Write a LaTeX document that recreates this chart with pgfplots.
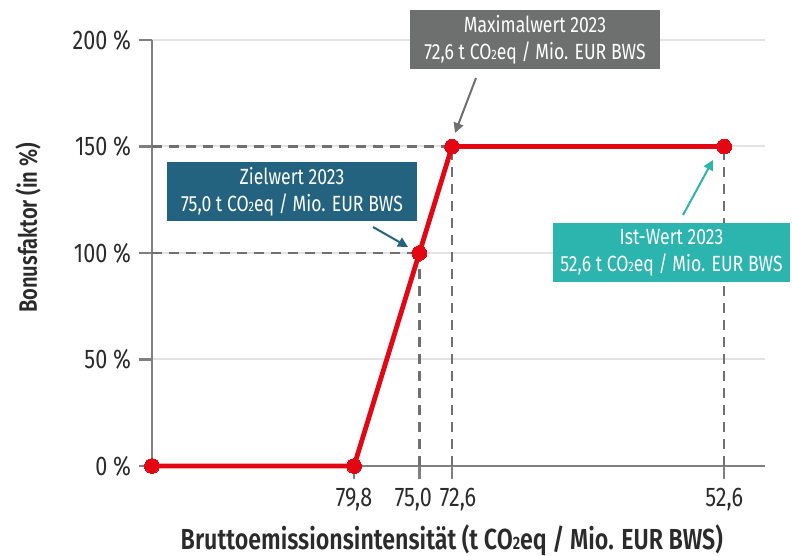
\documentclass[border=0pt]{standalone}
\usepackage{pgfplots}
\pgfplotsset{compat=1.18}
\usepackage{fontspec}
\setmainfont{Fira Sans}[FakeStretch=0.8, BoldFont={Fira Sans SemiBold}, BoldFeatures={FakeStretch=0.8}]
\usetikzlibrary{arrows.meta}
\definecolor{bred}{HTML}{E30613}
\definecolor{axgray}{HTML}{7F7F7F}
\definecolor{gridgray}{HTML}{E3E3E3}
\definecolor{dashgray}{HTML}{707070}
\definecolor{boxgray}{HTML}{6E6F6F}
\definecolor{boxblue}{HTML}{24637F}
\definecolor{boxteal}{HTML}{2BB5AE}
\definecolor{txt}{HTML}{2B2B2B}
\newcommand\two{\scalebox{0.62}{2}}
\begin{document}
\begin{tikzpicture}
\useasboundingbox (-76pt,-45pt) rectangle (320pt,233pt);
\begin{axis}[
  at={(0,0)}, anchor=south west,
  scale only axis, width=306.5pt, height=213pt,
  x dir=reverse,
  xmin=49.6, xmax=94.65, ymin=0, ymax=200,
  clip=false,
  axis lines=left,
  axis line style={-, axgray, line width=1.2pt},
  xtick={79.8,75,72.6,52.6},
  xticklabels={{79,8},{\makebox[0pt]{\kern-3pt 75,0\kern3pt}},{\makebox[0pt]{\kern3pt 72,6\kern-3pt}},{52,6}},
  ytick={0,50,100,150,200},
  yticklabels={0 \%,50 \%,100 \%,150 \%,200 \%},
  tick align=outside,
  major tick length=6.5pt,
  tick style={axgray, line width=1.2pt},
  ymajorgrids,
  grid style={gridgray, line width=1pt},
  ticklabel style={font=\fontsize{13.5}{15}\selectfont, text=txt},
  yticklabel style={xshift=-0.5pt},
  xticklabel style={yshift=-1pt},
  xlabel={Bruttoemissionsintensität (t CO\two eq / Mio. EUR BWS)},
  ylabel={Bonusfaktor (in \%)},
  label style={font=\bfseries\fontsize{14.5}{16}\selectfont, text=txt},
  xlabel style={at={(rel axis cs:0.489,-0.174)}, anchor=center},
  ylabel style={at={(rel axis cs:-0.202,0.559)}, anchor=center, rotate=0, font=\bfseries\fontsize{12.6}{14}\selectfont},
]
\addplot[dashgray, line width=1.2pt, dash pattern=on 5pt off 3.5pt] coordinates {(94.65,100) (75,100)};
\addplot[dashgray, line width=1.2pt, dash pattern=on 5pt off 3.5pt] coordinates {(94.65,150) (72.6,150)};
\addplot[dashgray, line width=1.2pt, dash pattern=on 5pt off 3.5pt] coordinates {(75,0) (75,100)};
\addplot[dashgray, line width=1.2pt, dash pattern=on 5pt off 3.5pt] coordinates {(72.6,0) (72.6,150)};
\addplot[dashgray, line width=1.2pt, dash pattern=on 5pt off 3.5pt] coordinates {(52.6,0) (52.6,150)};
\addplot[bred, line width=2.4pt, mark=*, mark size=3.7pt, mark options={fill=bred, draw=bred, line width=0pt}]
  coordinates {(94.65,0) (79.8,0) (75,100) (72.6,150) (52.6,150)};
\end{axis}
\tikzset{bx/.style={minimum width=125pt, minimum height=29.5pt, inner sep=0pt, align=center, text=white, font=\fontsize{11}{13.5}\selectfont}}
\node[bx, fill=boxgray] at (191.5pt,213pt) {Maximalwert 2023\\72,6 t CO\two eq / Mio. EUR BWS};
\node[bx, fill=boxblue] at (70pt,137.25pt) {Zielwert 2023\\75,0 t CO\two eq / Mio. EUR BWS};
\node[bx, fill=boxteal, minimum width=118.5pt] at (259.75pt,106.75pt) {Ist-Wert 2023\\52,6 t CO\two eq / Mio. EUR BWS};
\draw[boxgray, line width=1pt, -{Triangle[length=5pt, width=5pt]}] (162pt,194pt) -- (151.5pt,166.5pt);
\draw[boxblue, line width=1pt, -{Triangle[length=5pt, width=5pt]}] (110.5pt,119.5pt) -- (128pt,109.5pt);
\draw[boxteal, line width=1pt, -{Triangle[length=5pt, width=5pt]}] (265.5pt,125.5pt) -- (280.5pt,153pt);
\end{tikzpicture}
\end{document}
